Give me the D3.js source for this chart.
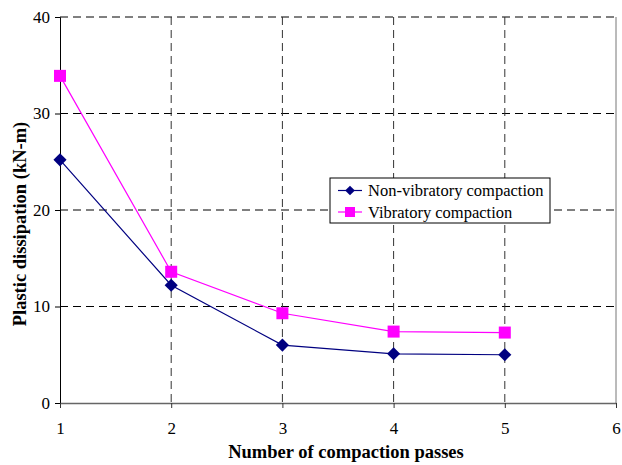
<!DOCTYPE html>
<html>
<head>
<meta charset="utf-8">
<script src="https://cdn.jsdelivr.net/npm/d3@7"></script>
<style>
  body { margin: 0; background: #fff; }
</style>
</head>
<body>
<div id="chart"></div>
<script>
const width = 622;
const height = 465;
const serif = "'Liberation Serif', 'Times New Roman', 'DejaVu Serif', serif";

// data
const passes = [1, 2, 3, 4, 5];
const nonVibratory = [25.2, 12.2, 6.0, 5.1, 5.0];
const vibratory = [33.9, 13.6, 9.3, 7.4, 7.3];
const xTicks = [1, 2, 3, 4, 5, 6];
const yTicks = [0, 10, 20, 30, 40];
const seriesNames = ["Non-vibratory compaction", "Vibratory compaction"];

const margin = {top: 17, right: 6, bottom: 62, left: 60};

const svg = d3.select("#chart")
  .append("svg")
  .attr("width", width)
  .attr("height", height)
  .attr("font-family", serif);

const x = d3.scaleLinear().domain([1, 6]).range([margin.left, width - margin.right]);
const y = d3.scaleLinear().domain([0, 40]).range([height - margin.bottom, margin.top]);

// horizontal grid
svg.append("g")
  .selectAll("line")
  .data(yTicks.filter(d => d > 0))
  .enter().append("line")
  .attr("x1", x(1)).attr("x2", x(6))
  .attr("y1", d => y(d)).attr("y2", d => y(d))
  .attr("stroke", "#000")
  .attr("stroke-width", 1)
  .attr("stroke-dasharray", "8,5");

// vertical grid
svg.append("g")
  .selectAll("line")
  .data(xTicks.filter(d => d > 1 && d < 6))
  .enter().append("line")
  .attr("x1", d => x(d)).attr("x2", d => x(d))
  .attr("y1", y(40)).attr("y2", y(0))
  .attr("stroke", "#333")
  .attr("stroke-width", 1)
  .attr("stroke-dasharray", "8,5");

// right border
svg.append("line")
  .attr("x1", x(6)).attr("x2", x(6))
  .attr("y1", y(40)).attr("y2", y(0))
  .attr("stroke", "#777");

// axes
const yAxis = svg.append("g")
  .attr("transform", `translate(${x(1)},0)`)
  .call(d3.axisLeft(y).tickValues(yTicks).tickFormat(d3.format("d")).tickSize(5).tickPadding(5));
yAxis.attr("font-family", serif);
yAxis.select(".domain").attr("stroke", "#000");
yAxis.selectAll("text").style("font-size", "17px").attr("fill", "#000");

const xAxis = svg.append("g")
  .attr("transform", `translate(0,${y(0)})`)
  .call(d3.axisBottom(x).tickValues(xTicks).tickFormat(d3.format("d")).tickSize(5).tickPadding(14).tickSizeOuter(0));
xAxis.attr("font-family", serif);
xAxis.select(".domain").attr("stroke", "#666").attr("stroke-width", 1.5);
xAxis.selectAll(".tick line").attr("stroke", "#333");
xAxis.selectAll("text").style("font-size", "17px").attr("fill", "#000");

// axis titles
svg.append("text")
  .attr("x", 346)
  .attr("y", 458)
  .attr("text-anchor", "middle")
  .style("font-size", "18.5px")
  .style("font-weight", "bold")
  .text("Number of compaction passes");

svg.append("text")
  .attr("transform", `translate(26,224) rotate(-90)`)
  .attr("text-anchor", "middle")
  .style("font-size", "18.5px")
  .style("font-weight", "bold")
  .text("Plastic dissipation (kN-m)");

const line = d3.line()
  .x((d, i) => x(passes[i]))
  .y(d => y(d));

// non-vibratory
svg.append("path")
  .datum(nonVibratory)
  .attr("d", line)
  .attr("fill", "none")
  .attr("stroke", "#000080")
  .attr("stroke-width", 1.2);

svg.append("g")
  .selectAll("path")
  .data(nonVibratory)
  .enter().append("path")
  .attr("transform", (d, i) => `translate(${x(passes[i])},${y(d)})`)
  .attr("d", d3.symbol().type(d3.symbolDiamond2).size(110))
  .attr("fill", "#000080");

// vibratory
svg.append("path")
  .datum(vibratory)
  .attr("d", line)
  .attr("fill", "none")
  .attr("stroke", "#FF00FF")
  .attr("stroke-width", 1.2);

svg.append("g")
  .selectAll("rect")
  .data(vibratory)
  .enter().append("rect")
  .attr("x", (d, i) => x(passes[i]) - 6)
  .attr("y", d => y(d) - 6)
  .attr("width", 12)
  .attr("height", 12)
  .attr("fill", "#FF00FF");

// legend
const legend = svg.append("g").attr("transform", "translate(330,178)");
legend.append("rect")
  .attr("width", 220).attr("height", 45)
  .attr("fill", "#fff").attr("stroke", "#000");

legend.append("line").attr("x1", 8).attr("x2", 32).attr("y1", 12.5).attr("y2", 12.5)
  .attr("stroke", "#000080").attr("stroke-width", 1.2);
legend.append("path")
  .attr("transform", "translate(20,12.5)")
  .attr("d", d3.symbol().type(d3.symbolDiamond2).size(60))
  .attr("fill", "#000080");
legend.append("line").attr("x1", 8).attr("x2", 32).attr("y1", 34).attr("y2", 34)
  .attr("stroke", "#FF00FF").attr("stroke-width", 1.2);
legend.append("rect")
  .attr("x", 15).attr("y", 29).attr("width", 10).attr("height", 10)
  .attr("fill", "#FF00FF");

legend.selectAll("text.lbl")
  .data(seriesNames)
  .enter().append("text")
  .attr("class", "lbl")
  .attr("x", 38)
  .attr("y", (d, i) => 18 + i * 22)
  .style("font-size", "16.5px")
  .text(d => d);
</script>
</body>
</html>
